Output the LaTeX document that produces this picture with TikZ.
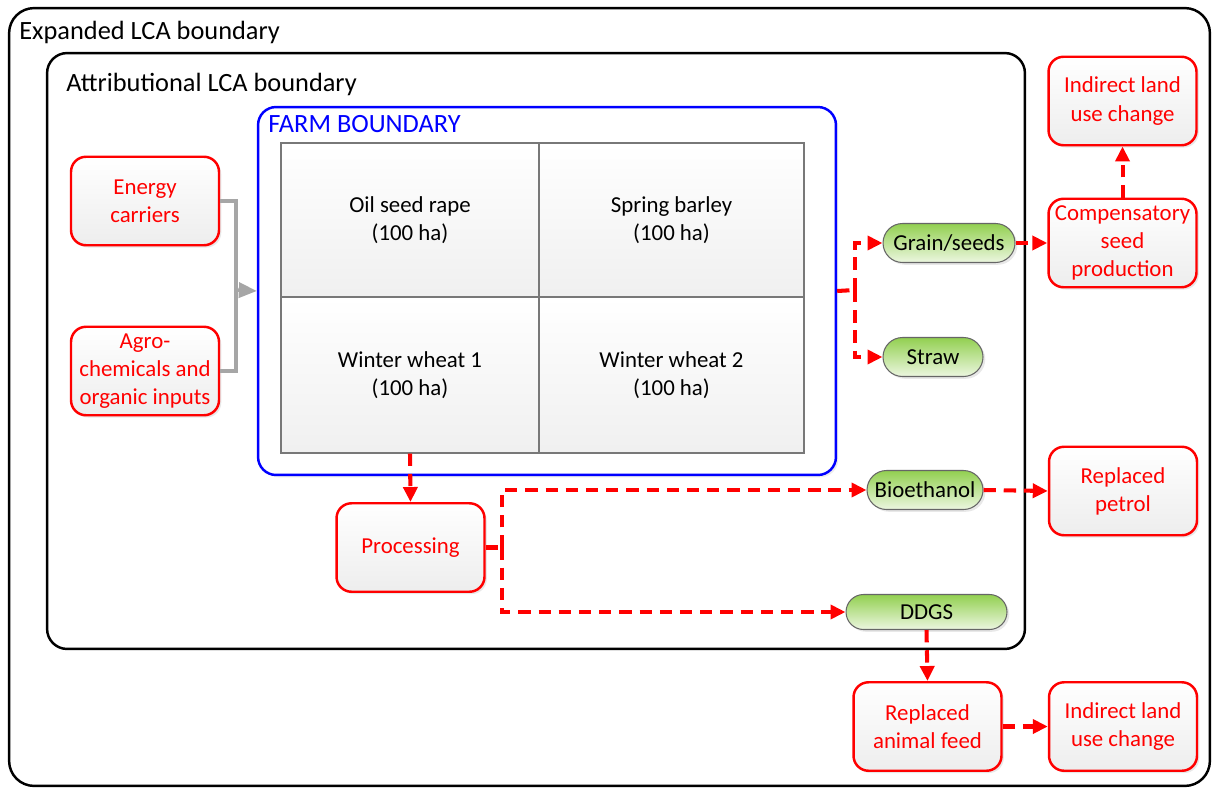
\documentclass[tikz,border=0pt]{standalone}
\usepackage{fontspec}
\setmainfont{Carlito}
\usetikzlibrary{arrows.meta,shadows,shapes.misc}

\definecolor{pillTop}{RGB}{146,208,80}
\definecolor{pillBot}{RGB}{236,246,224}
\definecolor{linkGray}{RGB}{166,166,166}
\definecolor{cellLine}{RGB}{120,120,120}

\begin{document}
\begin{tikzpicture}[x=0.02cm,y=-0.02cm,
  txt/.style={font=\fontsize{13pt}{16pt}\selectfont},
  softshadow/.style={drop shadow={opacity=0.18,shadow xshift=1.3pt,shadow yshift=-1.3pt}},
  redbox/.style={draw=red, line width=1.4pt, rounded corners=0.3cm,
    top color=white, bottom color=black!7, text=red, align=center,
    minimum width=2.96cm, minimum height=1.77cm, inner sep=1pt, txt, softshadow},
  pill/.style={rounded rectangle, draw=black!60, line width=0.6pt,
    top color=pillTop, bottom color=pillBot, inner sep=0pt,
    minimum height=0.78cm, txt, softshadow},
  cell/.style={draw=cellLine, line width=0.7pt, top color=white, bottom color=black!6,
    align=center, inner sep=0pt, txt},
  boundary/.style={draw=black, line width=1.4pt, fill=white, inner sep=0pt},
  blabel/.style={anchor=base west, font=\fontsize{15pt}{18pt}\selectfont, inner sep=0pt},
  flowline/.style={red, line width=2.3pt, dash pattern=on 7pt off 4.5pt},
  flow/.style={flowline, -{Triangle[length=0.3cm,width=0.28cm]}},
  feed/.style={linkGray, line width=2pt},
  feedarrow/.style={feed, -{Triangle[length=0.36cm,width=0.3cm]}},
]
\useasboundingbox (0,0) rectangle (1212,787);

% nested system boundaries
\node[boundary, rounded corners=0.5cm, minimum width=24.02cm, minimum height=15.56cm]
  (expanded) at (609.5,397) {};
\node[blabel] (expandedlabel) at (19,40) {Expanded LCA boundary};

\node[boundary, rounded corners=0.4cm, minimum width=19.56cm, minimum height=11.92cm]
  (attributional) at (536,351) {};
\node[blabel] (attributionallabel) at (66,92) {Attributional LCA boundary};

\node[draw=blue, line width=1.4pt, fill=white, rounded corners=0.36cm,
  minimum width=11.56cm, minimum height=7.36cm, inner sep=0pt,
  drop shadow={opacity=0.15,shadow xshift=1.3pt,shadow yshift=-1.3pt}]
  (farm) at (547,291) {};
\node[blabel, text=blue] (farmlabel) at (268,133) {FARM BOUNDARY};

% crop fields
\node[cell, minimum width=5.16cm, minimum height=3.08cm] (osr) at (410,220)
  {Oil seed rape\\(100 ha)};
\node[cell, minimum width=5.30cm, minimum height=3.08cm] (sb) at (671.5,220)
  {Spring barley\\(100 ha)};
\node[cell, minimum width=5.16cm, minimum height=3.12cm] (ww1) at (410,375)
  {Winter wheat 1\\(100 ha)};
\node[cell, minimum width=5.30cm, minimum height=3.12cm] (ww2) at (671.5,375)
  {Winter wheat 2\\(100 ha)};

% inputs
\node[redbox] (energy) at (145,201) {Energy\\carriers};
\node[redbox] (agro) at (145,371) {Agro-\\chemicals and\\organic inputs};

% processing and products
\node[redbox] (proc) at (410.5,547.5) {Processing};
\node[pill, minimum width=2.64cm] (grain) at (949,243) {Grain/seeds};
\node[pill, minimum width=2.0cm] (straw) at (933,357) {Straw};
\node[pill, minimum width=2.32cm] (bio) at (925,490) {Bioethanol};
\node[pill, minimum width=3.22cm, minimum height=0.7cm] (ddgs) at (926.5,612) {DDGS};

% system expansion
\node[redbox] (comp) at (1122.5,243) {Compensatory\\seed\\production};
\node[redbox] (iluc1) at (1122.5,101) {Indirect land\\use change};
\node[redbox] (petrol) at (1123,491) {Replaced\\petrol};
\node[redbox] (feedrep) at (927.5,726.5) {Replaced\\animal feed};
\node[redbox] (iluc2) at (1123,726.5) {Indirect land\\use change};

% junction points
\coordinate (jin) at (236,290);
\coordinate (jfarm) at (855,290);
\coordinate (jproc) at (502,547.5);

% input connectors
\draw[feed] (energy.east) -| (jin);
\draw[feed] (agro.east) -| (jin);
\draw[feedarrow] (jin) -- (farm.west);

% product flows
\draw[flowline] (farm.east) -- (jfarm);
\draw[flow] (jfarm) |- (grain.west);
\draw[flow] (jfarm) |- (straw.west);
\draw[flow] (ww1.south) -- (proc.north);
\draw[flowline] (proc.east) -- (jproc);
\draw[flow] (jproc) |- (bio.west);
\draw[flow] (jproc) |- (ddgs.west);
\draw[flow] (grain.east) -- (comp.west);
\draw[flow] (comp.north) -- (iluc1.south);
\draw[flow] (bio.east) -- (petrol.west);
\draw[flow] (ddgs.south) -- (feedrep.north);
\draw[flow] (feedrep.east) -- (iluc2.west);
\end{tikzpicture}
\end{document}
